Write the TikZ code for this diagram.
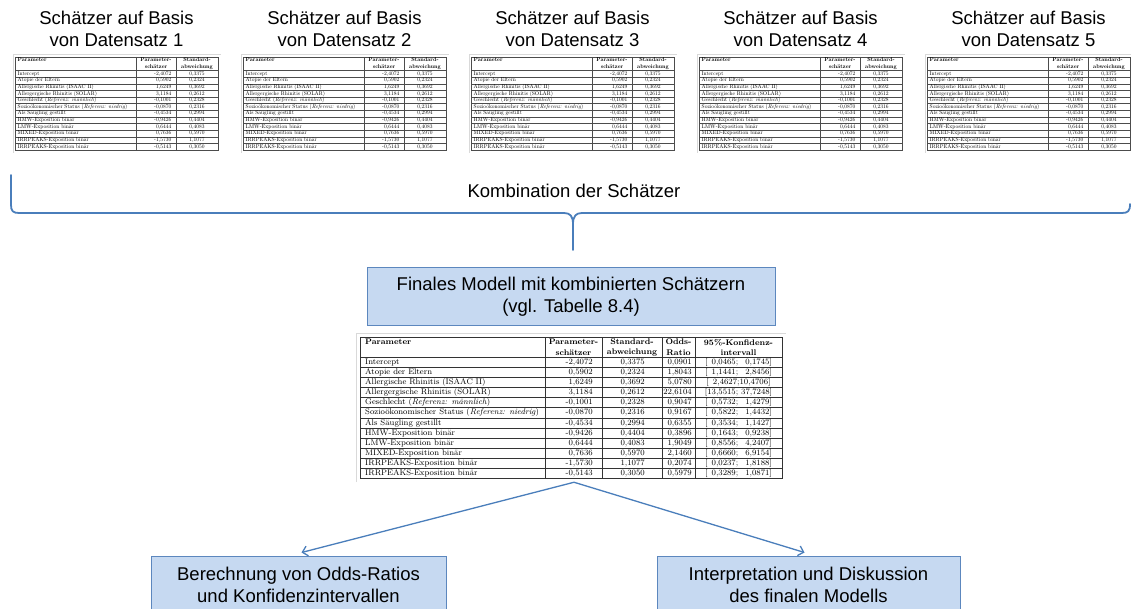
\documentclass[tikz,border=0pt]{standalone}
\usepackage{fontspec}
\newfontfamily\arial{Liberation Sans}
\usetikzlibrary{arrows.meta}
\definecolor{lineblue}{RGB}{74,126,187}
\definecolor{boxfill}{RGB}{198,217,241}
\definecolor{boxline}{RGB}{92,135,190}
\newcommand\ssc[1]{\scalebox{0.55}{#1}}
\tikzset{
 title/.style={font=\arial\fontsize{18.5}{22}\selectfont, align=center, inner sep=0},
 bluebox/.style={draw=boxline, line width=1pt, fill=boxfill, inner sep=0, align=center, font=\arial\fontsize{18.5}{22}\selectfont},
 btxt/.style={font=\fontsize{8.2}{10.1}\selectfont, inner sep=0},
 bhead/.style={font=\bfseries\fontsize{8.2}{10.1}\selectfont, inner sep=0, align=center},
 stxt/.style={font=\fontsize{10}{12}\selectfont, inner sep=0},
 shead/.style={font=\bfseries\fontsize{10}{12}\selectfont, inner sep=0},
 bgrid/.style={draw=black!80, line width=0.5pt},
 sgrid/.style={draw=black!70, line width=0.35pt},
 faint/.style={draw=black!15, line width=0.6pt},
 brace/.style={draw=lineblue, line width=1.8pt, line join=round, line cap=round},
 conn/.style={draw=lineblue, line width=1.3pt, -{Straight Barb[length=5pt,width=10pt]}},
}
\newcommand\tabrows{%
\R{1}{Intercept}{-2,4072}{0,3375}{0,0901}{\enspace0,0465; \enspace0,1745}%
\R{2}{Atopie der Eltern}{0,5902}{0,2324}{1,8043}{\enspace1,1441; \enspace2,8456}%
\R{3}{Allergische Rhinitis (ISAAC II)}{1,6249}{0,3692}{5,0780}{\enspace2,4627;10,4706}%
\R{4}{Allergergische Rhinitis (SOLAR)}{3,1184}{0,2612}{22,6104}{13,5515; 37,7248}%
\R{5}{Geschlecht (\textit{Referenz: männlich})}{-0,1001}{0,2328}{0,9047}{\enspace0,5732; \enspace1,4279}%
\R{6}{Sozioökonomischer Status (\textit{Referenz: niedrig})}{-0,0870}{0,2316}{0,9167}{\enspace0,5822; \enspace1,4432}%
\R{7}{Als Säugling gestillt}{-0,4534}{0,2994}{0,6355}{\enspace0,3534; \enspace1,1427}%
\R{8}{HMW-Exposition binär}{-0,9426}{0,4404}{0,3896}{\enspace0,1643; \enspace0,9238}%
\R{9}{LMW-Exposition binär}{0,6444}{0,4083}{1,9049}{\enspace0,8556; \enspace4,2407}%
\R{10}{MIXED-Exposition binär}{0,7636}{0,5970}{2,1460}{\enspace0,6660; \enspace6,9154}%
\R{11}{IRRPEAKS-Exposition binär}{-1,5730}{1,1077}{0,2074}{\enspace0,0237; \enspace1,8188}%
\R{12}{IRRPEAKS-Exposition binär}{-0,5143}{0,3050}{0,5979}{\enspace0,3289; \enspace1,0871}%
}
\newcommand\bigrow[6]{%
  \pgfmathsetmacro\yc{357.2+(#1-1)*10.1+7.2}%
  \node[btxt,anchor=base west] (B#1p) at (365,\yc) {#2};
  \node[btxt,anchor=base east] (B#1a) at (593,\yc) {#3};
  \node[btxt,anchor=base east] (B#1b) at (645,\yc) {#4};
  \node[btxt,anchor=base east] (B#1c) at (692,\yc) {#5};
  \node[btxt,anchor=base] (B#1d) at (738.5,\yc) {[#6]};
}
\newcommand\smallrow[6]{%
  \pgfmathsetmacro\yc{70.5+(#1-1)*6.625+4.7}%
  \node[stxt,anchor=base west] (S\tid-#1p) at (\tx+2.5,\yc) {\ssc{#2}};
  \node[stxt,anchor=base east] (S\tid-#1a) at (\tx+156.5,\yc) {\ssc{#3}};
  \node[stxt,anchor=base] (S\tid-#1b) at (\tx+182,\yc) {\ssc{#4}};
}
\begin{document}
\begin{tikzpicture}[x=1pt,y=-1pt]
\useasboundingbox (0,0) rectangle (1131,609);
\clip (0,0) rectangle (1131,609);
\fill[white] (0,0) rectangle (1131,609);
% five small tables with titles
\foreach \i in {0,...,4}{
  \pgfmathsetmacro\tx{15+228*\i}
  \pgfmathtruncatemacro\tid{\i+1}
  \node[title] (T\tid) at (\tx+101.5,29) {Schätzer auf Basis\\von Datensatz \tid};
  \draw[faint] (\tx-2,153) -- (\tx-2,54.5) -- (\tx+206,54.5);
  \draw[sgrid] (\tx,57) rectangle (\tx+203,150);
  \draw[sgrid] (\tx,70.5) -- (\tx+203,70.5);
  \foreach \k in {1,...,11} \draw[sgrid] (\tx,{70.5+\k*6.625}) -- (\tx+203,{70.5+\k*6.625});
  \draw[sgrid] (\tx+121,57) -- (\tx+121,150);
  \draw[sgrid] (\tx+161,57) -- (\tx+161,150);
  \node[shead,anchor=base west] (S\tid-hp) at (\tx+2.5,61.7) {\ssc{Parameter}};
  \node[shead,anchor=base] (S\tid-ha1) at (\tx+141,61.7) {\ssc{Parameter-}};
  \node[shead,anchor=base] (S\tid-ha2) at (\tx+141,68.3) {\ssc{schätzer}};
  \node[shead,anchor=base] (S\tid-hb1) at (\tx+182,61.7) {\ssc{Standard-}};
  \node[shead,anchor=base] (S\tid-hb2) at (\tx+182,68.3) {\ssc{abweichung}};
  \let\R\smallrow
  \tabrows
}
% brace
\draw[brace] (11,175) -- (11,205) .. controls (11,211) and (13,213) .. (19,213) -- (564,213) .. controls (570,213) and (573,216) .. (573,224) -- (573,250);
\draw[brace] (1130,204) .. controls (1130,211) and (1128,213) .. (1122,213) -- (582,213) .. controls (576,213) and (573,216) .. (573,224);
\node[title] (komb) at (574,191) {Kombination der Schätzer};
% final model box
\node[bluebox, minimum width=408pt, minimum height=57pt] (fm) at (571,296.5) {Finales Modell mit kombinierten Schätzern\\(vgl. Tabelle 8.4)};
% big table
\draw[faint] (356,482) -- (356,333) -- (786,333);
\node[draw=black!80, line width=0.5pt, inner sep=0, minimum width=422pt, minimum height=141.4pt] (bt) at (571,407.7) {};
\foreach \k in {0,...,11} \draw[bgrid] (360,{357.2+\k*10.1}) -- (782,{357.2+\k*10.1});
\foreach \xx in {545,602,662,695} \draw[bgrid] (\xx,337) -- (\xx,478.4);
\node[bhead,anchor=base west] (hp) at (365,344.3) {Parameter};
\node[bhead] (ha) at (573.5,347.2) {Parameter-\\schätzer};
\node[bhead] (hb) at (632,347.2) {Standard-\\abweichung};
\node[bhead] (hc) at (678.5,347.2) {Odds-\\Ratio};
\node[bhead] (hd) at (738.5,347.2) {95\%-Konfidenz-\\intervall};
\let\R\bigrow
\tabrows
% bottom boxes
\node[bluebox, minimum width=295pt, minimum height=57pt] (b1) at (298.5,584.5) {Berechnung von Odds-Ratios\\und Konfidenzintervallen};
\node[bluebox, minimum width=303pt, minimum height=57pt] (b2) at (808.5,584.5) {Interpretation und Diskussion\\des finalen Modells};
\draw[conn] ([xshift=3pt,yshift=-3.6pt]bt.south) -- ([xshift=3pt,yshift=3pt]b1.north);
\draw[conn] ([xshift=3pt,yshift=-3.6pt]bt.south) -- ([xshift=-4pt,yshift=3pt]b2.north);
\end{tikzpicture}
\end{document}
